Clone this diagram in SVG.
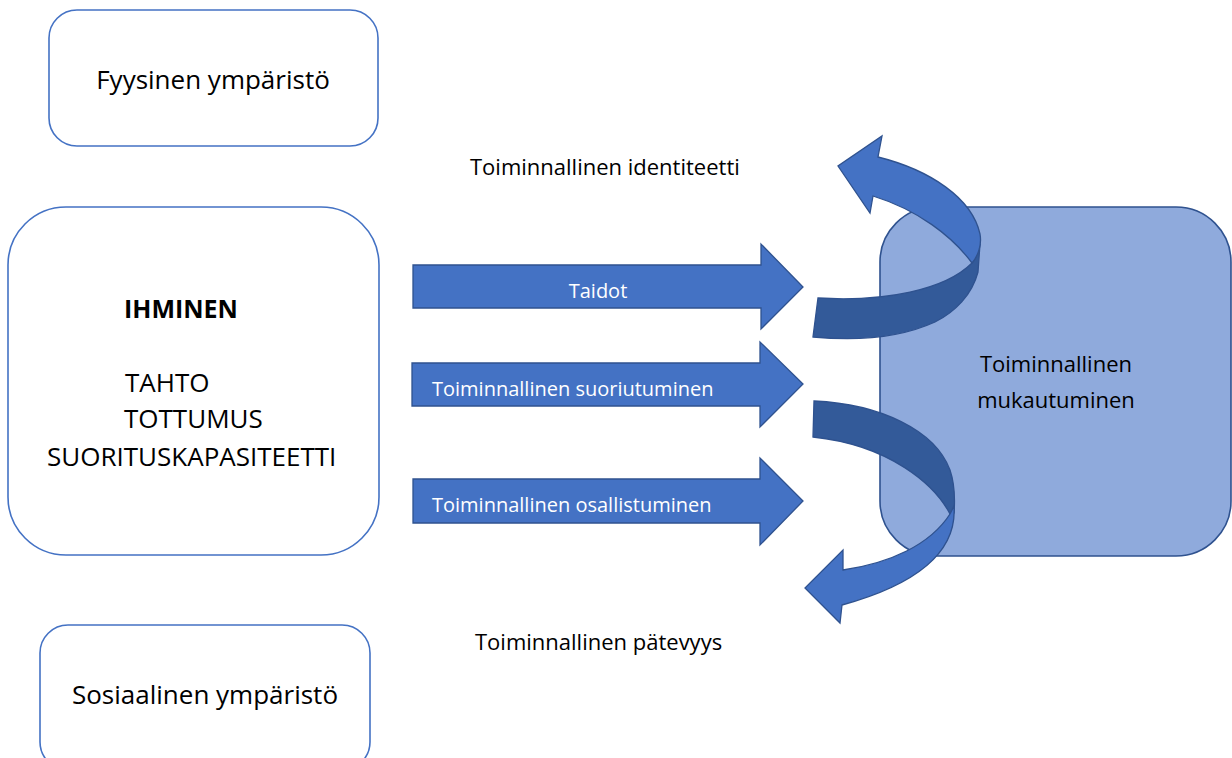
<svg xmlns="http://www.w3.org/2000/svg" width="1232" height="758" viewBox="0 0 1232 758">
<style>
.box{fill:#fff;stroke:#4472C4;stroke-width:1.6}
.rbox{fill:#8FAADC;stroke:#2F528F;stroke-width:1.6}
.arr{fill:#4472C4;stroke:#2F528F;stroke-width:1.3;stroke-linejoin:miter}
.dark{fill:#335A99;stroke:#2F528F;stroke-width:1.3}
.t{font-family:"Open Sans","Liberation Sans",sans-serif;fill:#000}
.w{font-family:"Open Sans","Liberation Sans",sans-serif;fill:#fff;font-size:20px}
</style>
<rect width="1232" height="758" fill="#fff"/>
<g id="fyysinen">
<rect class="box" x="49" y="10" width="329" height="136" rx="28"/>
<text class="t" x="213" y="89" font-size="26" text-anchor="middle">Fyysinen ympäristö</text>
</g>
<g id="ihminen">
<rect class="box" x="8" y="207" width="371" height="348" rx="58"/>
<text class="t" x="124" y="318" font-size="25" font-weight="bold">IHMINEN</text>
<text class="t" x="125" y="392" font-size="26">TAHTO</text>
<text class="t" x="124" y="428" font-size="26">TOTTUMUS</text>
<text class="t" x="47" y="466" font-size="26">SUORITUSKAPASITEETTI</text>
</g>
<g id="sosiaalinen">
<rect class="box" x="40" y="625" width="330" height="145" rx="28"/>
<text class="t" x="205" y="704" font-size="26" text-anchor="middle">Sosiaalinen ympäristö</text>
</g>
<g id="mukautuminen">
<rect class="rbox" x="880" y="207" width="351" height="349" rx="55"/>
<text class="t" x="1056" y="372" font-size="22" text-anchor="middle">Toiminnallinen</text>
<text class="t" x="1056" y="408" font-size="22" text-anchor="middle">mukautuminen</text>
</g>
<g id="labels">
<text class="t" x="470" y="175" font-size="22">Toiminnallinen identiteetti</text>
<text class="t" x="475" y="650" font-size="22">Toiminnallinen pätevyys</text>
</g>
<g id="connectors">
<g id="arrow-taidot">
<path class="arr" d="M413,265 H761 V244 L803,287 L761,329 V308 H413 Z"/>
<text class="w" x="598" y="298" text-anchor="middle">Taidot</text>
</g>
<g id="arrow-suoriutuminen">
<path class="arr" d="M412,363 H760 V342 L803,384 L760,427 V406 H412 Z"/>
<text class="w" x="432" y="396">Toiminnallinen suoriutuminen</text>
</g>
<g id="arrow-osallistuminen">
<path class="arr" d="M413,479 H760 V458 L803,501 L760,545 V523 H413 Z"/>
<text class="w" x="432" y="512">Toiminnallinen osallistuminen</text>
</g>
<g id="curve-identiteetti">
<path class="dark" d="M818,298 C885,302 945,290 972,263 C976,258 979,250 980,244 L978,272 C972,295 955,312 935,322 C900,338 855,341 813,337 Z"/>
<path class="arr" d="M972,263 C952,236 918,210 873,196 L870,213 L838,166 L882,136 L878,157 C930,170 972,198 980,234 C982,245 978,256 972,263 Z"/>
</g>
<g id="curve-patevyys">
<path class="dark" d="M814,401 C880,404 935,430 950,470 C955,485 955,500 954,513 L950,514 C935,485 890,445 813,437 Z"/>
<path class="arr" d="M954,506 C957,548 925,582 842,605 L840,623 L805,588 L843,550 L843,570 C890,563 930,545 950,514 Z"/>
</g>
</g>
</svg>
